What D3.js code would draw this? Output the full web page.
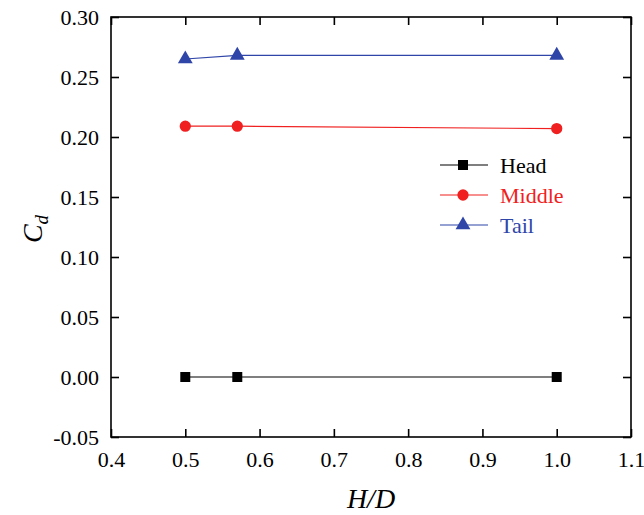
<!DOCTYPE html>
<html>
<head>
<meta charset="utf-8">
<script src="https://cdn.jsdelivr.net/npm/d3@7"></script>
<style>
  body { margin: 0; background: #fff; }
  svg { display: block; }
  svg text { font-family: "Liberation Serif", "Times New Roman", serif; }
</style>
</head>
<body>
<svg width="644" height="515"></svg>
<script>
// data
const hd = [0.5, 0.57, 1.0];
const head = [0.0, 0.0, 0.0];
const middle = [0.209, 0.209, 0.207];
const tail = [0.265, 0.268, 0.268];
const xTicks = [0.4, 0.5, 0.6, 0.7, 0.8, 0.9, 1.0, 1.1];
const yTicks = [-0.05, 0, 0.05, 0.10, 0.15, 0.20, 0.25, 0.30];

const series = [
  {name: 'Head', values: head, color: '#000000', shape: d3.symbolSquare, size: 100},
  {name: 'Middle', values: middle, color: '#f02020', shape: d3.symbolCircle, size: 100},
  {name: 'Tail', values: tail, color: '#2f45a8', shape: d3.symbolTriangle, size: 95}
];

const svg = d3.select('svg');
const L = 111, R = 631, T = 17, B = 437;

const x = d3.scaleLinear().domain([0.4, 1.1]).range([L, R]);
const y = d3.scaleLinear().domain([-0.05, 0.30]).range([B, T]);

// axes, ticks inward on all sides
const tickLen = 8;
svg.append('g').attr('transform', `translate(0,${B})`)
  .call(d3.axisBottom(x).tickValues(xTicks).tickFormat(d => d.toFixed(1)).tickSizeInner(-tickLen).tickSizeOuter(0).tickPadding(14));
svg.append('g').attr('transform', `translate(${L},0)`)
  .call(d3.axisLeft(y).tickValues(yTicks).tickFormat(d => d.toFixed(2)).tickSizeInner(-tickLen).tickSizeOuter(0).tickPadding(12));
svg.append('g').attr('transform', `translate(0,${T})`)
  .call(d3.axisTop(x).tickValues(xTicks).tickFormat('').tickSizeInner(-tickLen).tickSizeOuter(0));
svg.append('g').attr('transform', `translate(${R},0)`)
  .call(d3.axisRight(y).tickValues(yTicks).tickFormat('').tickSizeInner(-tickLen).tickSizeOuter(0));

svg.selectAll('.domain').remove();
svg.selectAll('.tick line').attr('stroke', '#000').attr('stroke-width', 1.6);
svg.selectAll('.tick text')
  .style('font-size', '22px')
  .style('font-family', '"Liberation Serif", "Times New Roman", serif')
  .attr('fill', '#000');

svg.append('rect')
  .attr('x', L).attr('y', T).attr('width', R - L).attr('height', B - T)
  .attr('fill', 'none').attr('stroke', '#000').attr('stroke-width', 1.6);

// lines and markers
const line = d3.line().x(d => x(d[0])).y(d => y(d[1]));
series.forEach(s => {
  const pts = hd.map((h, i) => [h, s.values[i]]);
  svg.append('path').datum(pts)
    .attr('d', line)
    .attr('fill', 'none')
    .attr('stroke', s.color)
    .attr('stroke-width', 1.2);
  svg.selectAll(null).data(pts).enter().append('path')
    .attr('transform', d => `translate(${x(d[0])},${y(d[1])})`)
    .attr('d', d3.symbol().type(s.shape).size(s.size))
    .attr('fill', s.color);
});

// legend
const lg = svg.append('g').attr('transform', 'translate(440,165)');
series.forEach((s, i) => {
  const g = lg.append('g').attr('transform', `translate(0,${i * 30})`);
  g.append('line').attr('x1', 0).attr('x2', 48).attr('y1', 0).attr('y2', 0)
    .attr('stroke', s.color).attr('stroke-width', 1.2);
  g.append('path').attr('transform', 'translate(23,0)')
    .attr('d', d3.symbol().type(s.shape).size(s.size))
    .attr('fill', s.color);
  g.append('text').attr('x', 60).attr('y', 7.5)
    .style('font-size', '22px').attr('fill', s.color).text(s.name);
});

// axis titles
svg.append('text')
  .attr('x', (L + R) / 2).attr('y', 508)
  .attr('text-anchor', 'middle').style('font-size', '28px').style('font-style', 'italic')
  .text('H/D');

const yt = svg.append('text')
  .attr('transform', 'translate(42,229) rotate(-90)')
  .attr('text-anchor', 'middle').style('font-size', '28px').style('font-style', 'italic');
yt.append('tspan').text('C');
yt.append('tspan').style('font-size', '19px').attr('dy', 6).text('d');
</script>
</body>
</html>
